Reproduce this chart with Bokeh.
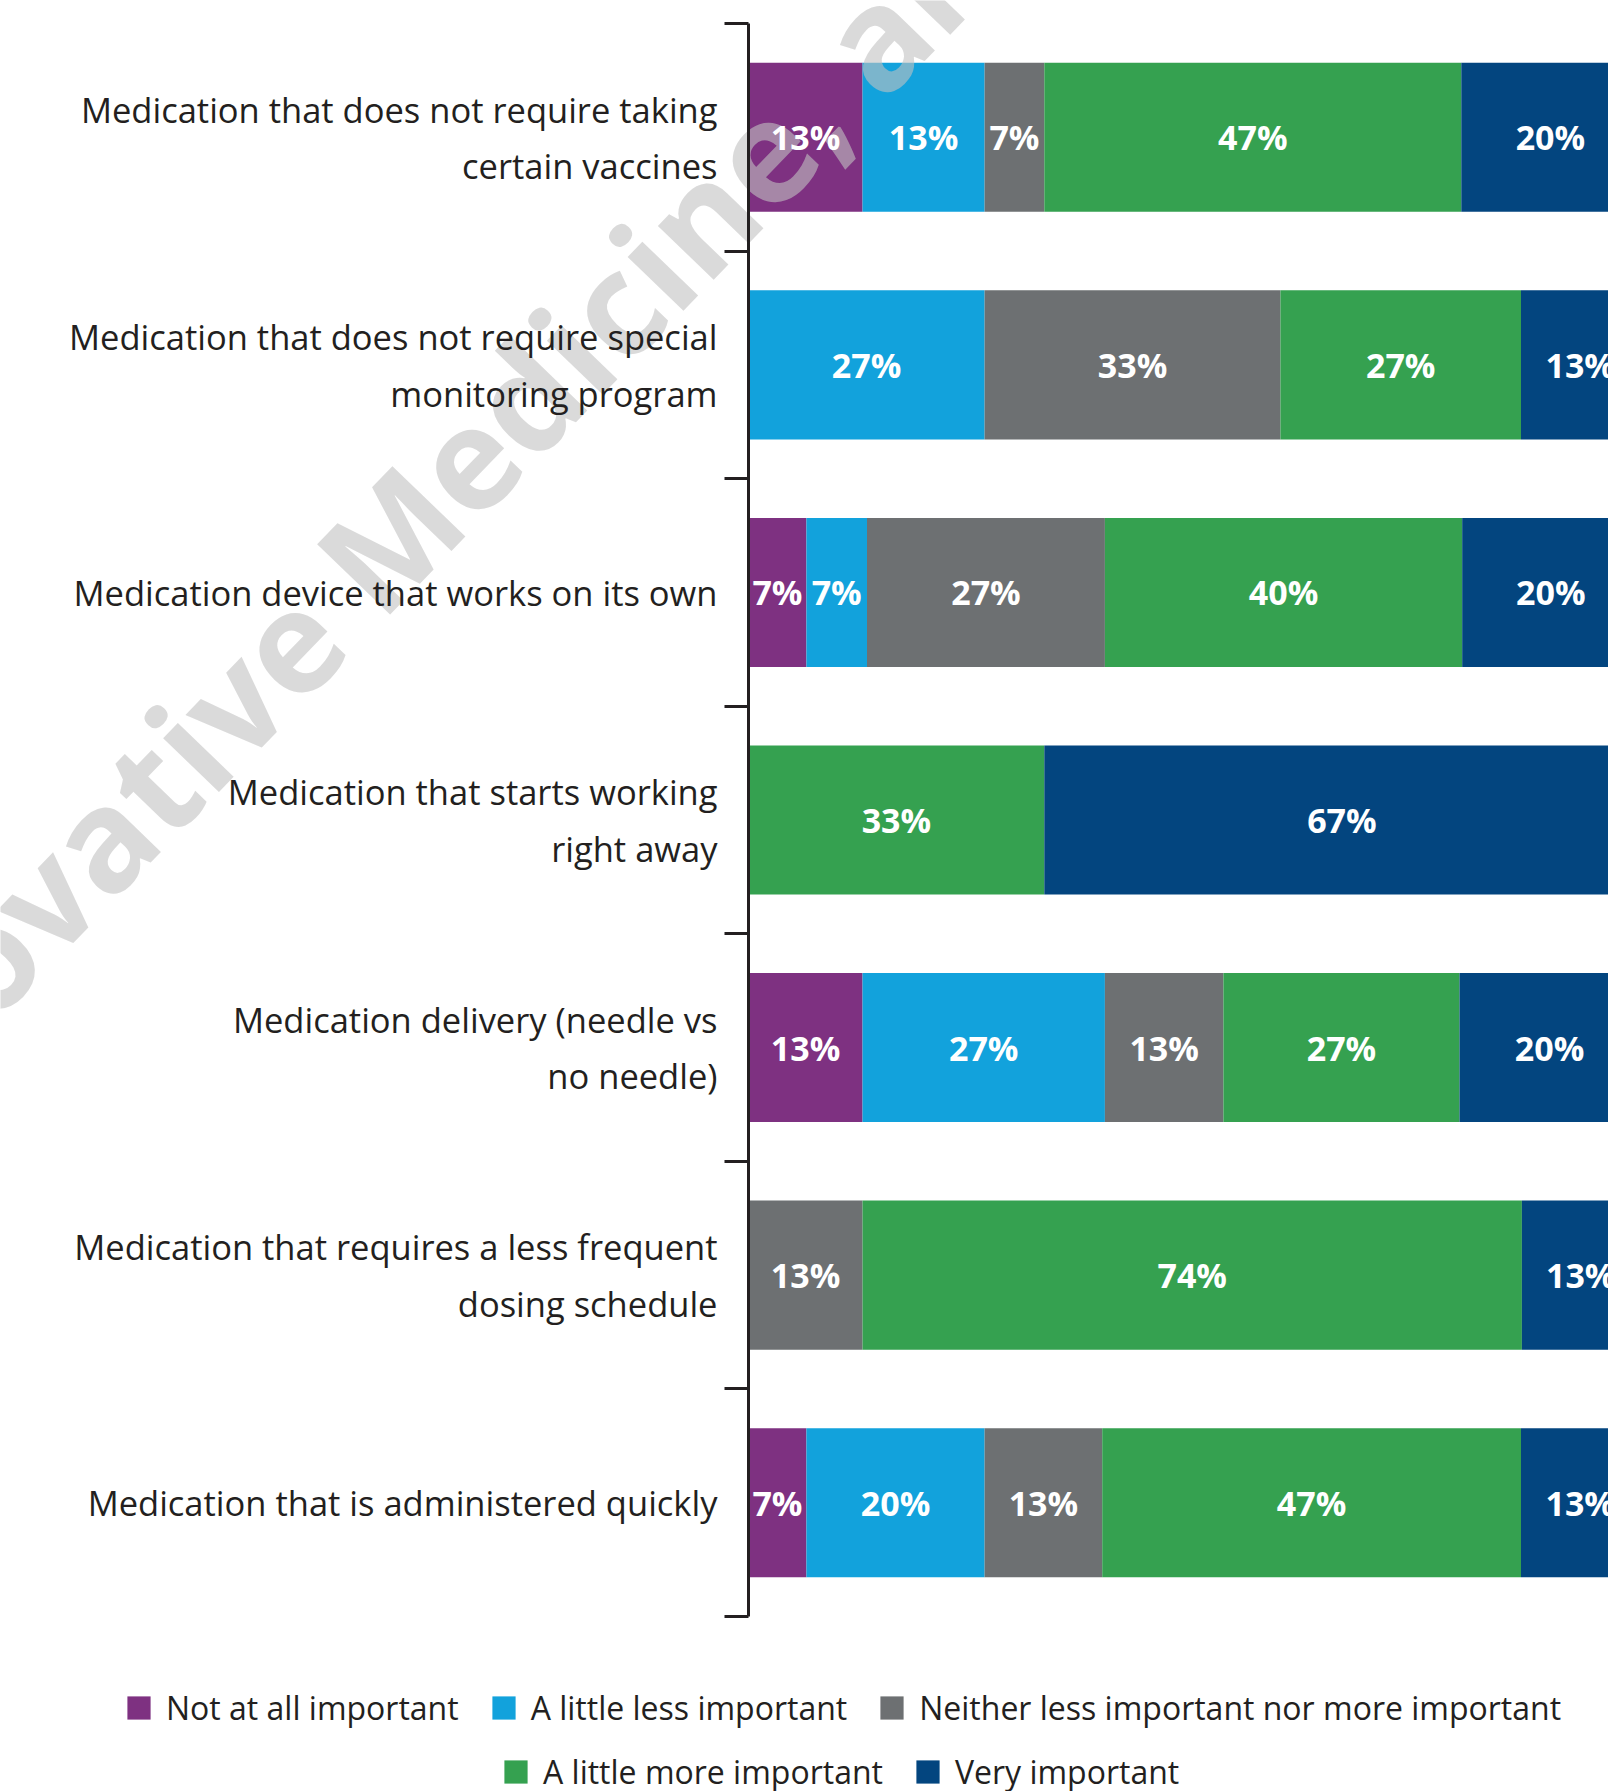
from bokeh.plotting import figure
from bokeh.models import ColumnDataSource, Range1d, FixedTicker, Legend, LegendItem
from bokeh.embed import file_html
from bokeh.resources import INLINE
from bokeh.core.properties import value

categories = [
    "Medication that does not require taking\ncertain vaccines",
    "Medication that does not require special\nmonitoring program",
    "Medication device that works on its own",
    "Medication that starts working\nright away",
    "Medication delivery (needle vs\nno needle)",
    "Medication that requires a less frequent\ndosing schedule",
    "Medication that is administered quickly",
]
series = [
    "Not at all important",
    "A little less important",
    "Neither less important nor more important",
    "A little more important",
    "Very important",
]
# bar lengths (percent, as drawn)
not_at_all = [12.8, 0, 6.5, 0, 12.8, 0, 6.5]
little_less = [13.7, 26.5, 6.8, 0, 27.2, 0, 20.0]
neither = [6.7, 33.2, 26.7, 0, 13.3, 12.8, 13.2]
little_more = [46.8, 27.0, 40.1, 33.2, 26.5, 74.0, 47.0]
very = [20.0, 13.3, 19.9, 66.8, 20.2, 13.2, 13.3]
# printed segment labels
lbl_not_at_all = ["13%", "", "7%", "", "13%", "", "7%"]
lbl_little_less = ["13%", "27%", "7%", "", "27%", "", "20%"]
lbl_neither = ["7%", "33%", "27%", "", "13%", "13%", "13%"]
lbl_little_more = ["47%", "27%", "40%", "33%", "27%", "74%", "47%"]
lbl_very = ["20%", "13%", "20%", "67%", "20%", "13%", "13%"]
colors = ["#7e3181", "#12a2dc", "#6d7072", "#35a150", "#03457f"]
watermark = "Innovative Medicine, an"

data = [not_at_all, little_less, neither, little_more, very]
labels = [lbl_not_at_all, lbl_little_less, lbl_neither, lbl_little_more, lbl_very]
n = len(categories)
ys = [n - 0.5 - i for i in range(n)]
keys = [f"s{k}" for k in range(len(series))]
src = ColumnDataSource(dict(y=ys, **{k: v for k, v in zip(keys, data)}))

TEXT = "#231f20"
FONT = "Open Sans"
W, H = 1608, 1791
X0, XPX = 748, 8.91          # pixel of value 0, pixels per percent
Y0, YPX = 1616, 227.57       # pixel of category boundary 0, pixels per category

p = figure(width=W, height=H,
           x_range=Range1d(-X0 / XPX, (W - X0) / XPX),
           y_range=Range1d(-(H - Y0) / YPX, Y0 / YPX),
           output_backend="svg", toolbar_location=None, x_axis_location=None,
           min_border=0)
p.outline_line_color = None
p.xgrid.visible = False
p.ygrid.visible = False

rs = p.hbar_stack(keys, y="y", height=0.655, color=colors, source=src, line_color=None)

# watermark (light, translucent, over the bars)
p.text(x=[-107.6], y=[2.018], text=[watermark], angle=0.8029,
       text_font=value(FONT), text_font_style="bold", text_font_size="142px",
       text_color="#c2c2c2", text_alpha=0.6, text_align="left",
       text_baseline="alphabetic")

# segment labels
lx, ly, lt = [], [], []
cum = [0] * n
for vals, lbls in zip(data, labels):
    for i, (v, t) in enumerate(zip(vals, lbls)):
        if v > 0 and t:
            lx.append(cum[i] + v / 2)
            ly.append(ys[i])
            lt.append(t)
        cum[i] += v
p.text(x=lx, y=ly, text=lt, text_align="center", text_baseline="middle",
       text_color="white", text_font=value(FONT), text_font_style="bold",
       text_font_size="34px")

yax = p.yaxis[0]
yax.fixed_location = 0
yax.bounds = (0, n)
yax.ticker = FixedTicker(ticks=ys, minor_ticks=list(range(0, n + 1)))
yax.major_label_overrides = {y: c for y, c in zip(ys, categories)}
yax.major_tick_line_color = None
yax.major_tick_out = 0
yax.major_tick_in = 0
yax.minor_tick_out = 24
yax.minor_tick_in = 0
yax.minor_tick_line_width = 3
yax.minor_tick_line_color = TEXT
yax.axis_line_width = 3
yax.axis_line_color = TEXT
yax.major_label_standoff = 7
yax.major_label_text_font = FONT
yax.major_label_text_font_size = "34.5px"
yax.major_label_text_color = TEXT
yax.major_label_text_line_height = 1.2

def make_legend(idx, loc):
    return Legend(items=[LegendItem(label=series[i], renderers=[rs[i]]) for i in idx],
                  orientation="horizontal", location=loc, padding=0, margin=0,
                  spacing=30, glyph_width=29, glyph_height=29, label_standoff=13,
                  border_line_color=None, background_fill_alpha=0,
                  label_text_font=FONT, label_text_font_size="32px",
                  label_text_color=TEXT)

p.add_layout(make_legend([0, 1, 2], (124, 62)))
p.add_layout(make_legend([3, 4], (501, -2)))

open("out.html", "w").write(file_html(p, INLINE))
